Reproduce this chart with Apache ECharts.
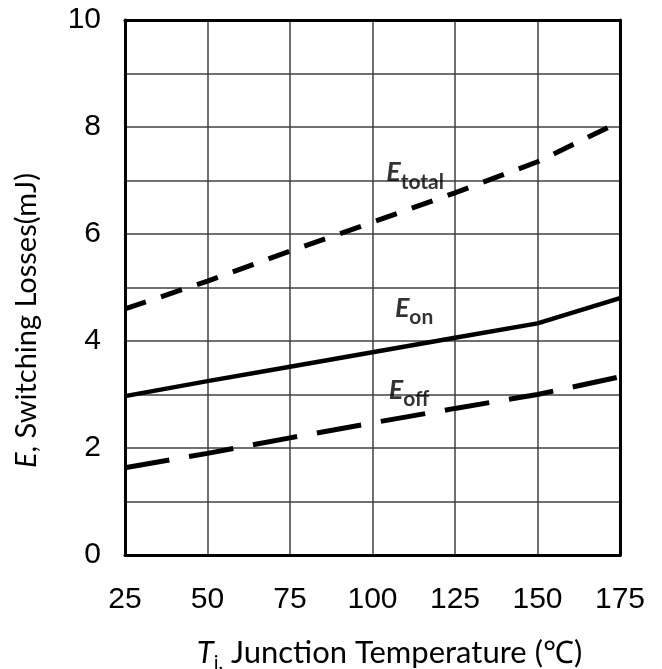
<!DOCTYPE html>
<html><head><meta charset="utf-8">
<script src="https://cdn.jsdelivr.net/npm/echarts@6/dist/echarts.min.js"></script>
<style>html,body{margin:0;padding:0;background:#fff}#c{width:662px;height:669px}</style>
</head><body><div id="c"></div>
<script>
const temps = [25, 50, 75, 100, 125, 150, 175];
const eTotal = [4.6, 5.12, 5.68, 6.22, 6.77, 7.35, 8.1];
const eOn = [2.97, 3.25, 3.52, 3.79, 4.06, 4.33, 4.8];
const eOff = [1.63, 1.9, 2.19, 2.47, 2.74, 3.0, 3.33];
const labelTotalAt = [112.9, 7.15];
const labelOnAt = [112.6, 4.62];
const labelOffAt = [111.1, 3.08];

const chart = echarts.init(document.getElementById('c'));
const pair = (xs, ys) => xs.map((x, i) => [x, ys[i]]);
const richLbl = {
  E: {fontFamily: 'Lato', fontSize: 27, fontWeight: 'bold', fontStyle: 'italic', color: '#000', lineHeight: 40},
  s: {fontFamily: 'Lato', fontSize: 21, fontWeight: 'bold', color: '#000', lineHeight: 21, verticalAlign: 'bottom'}
};
function tag(coord, sub) {
  return {
    type: 'scatter', data: [coord], symbolSize: 0, silent: true, z: 5,
    label: {show: true, position: 'inside', formatter: '{E|E}{s|' + sub + '}', rich: richLbl}
  };
}
chart.setOption({
  animation: false,
  grid: {left: 125, right: 42, top: 20, bottom: 114, outerBoundsMode: 'none', containLabel: false},
  xAxis: [{
    type: 'value', min: 25, max: 175, interval: 25, position: 'bottom',
    axisLine: {show: true, lineStyle: {color: '#000', width: 3}},
    axisTick: {show: false},
    axisLabel: {fontFamily: 'Liberation Sans', fontSize: 30, color: '#000', margin: 30},
    splitLine: {show: true, showMinLine: false, showMaxLine: false, lineStyle: {color: '#404040', width: 1.5}},
    name: '{i|T}{sub|j,} Junction Temperature (℃)', nameLocation: 'middle', nameGap: 78,
    nameTextStyle: {fontFamily: 'Lato', fontSize: 31, color: '#000', lineHeight: 32, padding: [0, 0, 0, 34],
      rich: {i: {fontFamily: 'Lato', fontSize: 31, fontStyle: 'italic', color: '#000', lineHeight: 32},
             sub: {fontFamily: 'Lato', fontSize: 20, color: '#000', lineHeight: 40, verticalAlign: 'bottom'}}}
  }, {
    type: 'value', min: 25, max: 175, interval: 25, position: 'top',
    axisLine: {show: true, onZero: false, lineStyle: {color: '#000', width: 3}},
    axisTick: {show: false}, axisLabel: {show: false}, splitLine: {show: false}
  }],
  yAxis: [{
    type: 'value', min: 0, max: 10, interval: 1, position: 'left',
    axisLine: {show: true, lineStyle: {color: '#000', width: 3}},
    axisTick: {show: false},
    axisLabel: {fontFamily: 'Liberation Sans', fontSize: 30, color: '#000', margin: 24,
      formatter: v => (v % 2 === 0 ? String(v) : '')},
    splitLine: {show: true, showMinLine: false, showMaxLine: false, lineStyle: {color: '#404040', width: 1.5}},
    name: '{i|E}, Switching Losses(mJ)', nameLocation: 'middle', nameGap: 84, nameRotate: 90,
    nameTextStyle: {fontFamily: 'Lato', fontSize: 29, color: '#000', padding: [0, 66, 0, 0],
      rich: {i: {fontFamily: 'Lato', fontSize: 29, fontStyle: 'italic', color: '#000'}}}
  }, {
    type: 'value', min: 0, max: 10, interval: 1, position: 'right',
    axisLine: {show: true, onZero: false, lineStyle: {color: '#000', width: 3}},
    axisTick: {show: false}, axisLabel: {show: false}, splitLine: {show: false}
  }],
  series: [
    {type: 'line', data: pair(temps, eTotal), symbol: 'none', z: 3,
     lineStyle: {color: '#000', width: 5, type: [22, 16]}},
    {type: 'line', data: pair(temps, eOn), symbol: 'none', z: 3,
     lineStyle: {color: '#000', width: 4.5}},
    {type: 'line', data: pair(temps, eOff), symbol: 'none', z: 3,
     lineStyle: {color: '#000', width: 5, type: [45, 20]}},
    tag(labelTotalAt, 'total'),
    tag(labelOnAt, 'on'),
    tag(labelOffAt, 'off')
  ]
});
</script></body></html>
